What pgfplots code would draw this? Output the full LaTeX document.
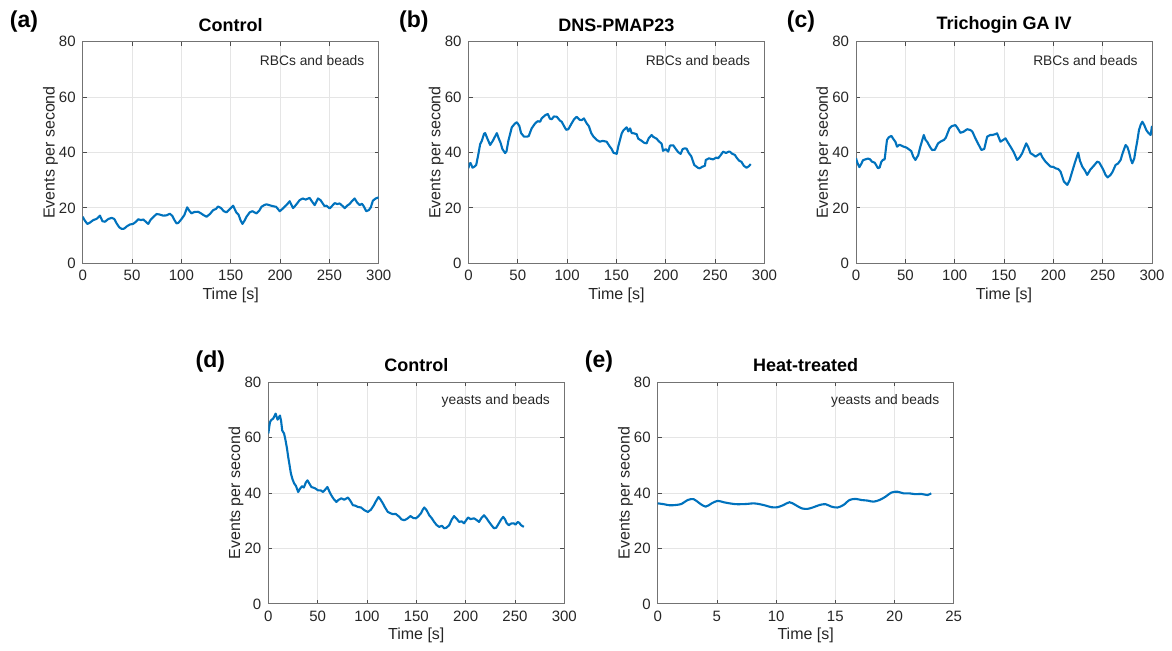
\documentclass[border=0pt]{standalone}
\usepackage{pgfplots}
\pgfplotsset{compat=1.18}
\usepackage{fontspec}
\setmainfont{Liberation Sans}
\definecolor{mblue}{RGB}{0,114,189}
\pgfplotsset{
  panel/.style={
    scale only axis, width=148pt, height=110.8pt, anchor=north west,
    ymin=0, ymax=80, ytick={0,20,...,80},
    clip mode=individual,
    grid=major, major grid style={draw=black!10, line width=0.4pt},
    axis line style={draw=black!55, line width=0.5pt},
    tick style={draw=black!70, line width=0.4pt}, tick align=inside, major tick length=2pt,
    ticklabel style={font=\fontsize{7.5}{9}\selectfont, text=black!85},
    /pgf/number format/assume math mode=true,
  },
  trace/.style={color=mblue, line width=1.05pt, line join=round, no marks},
}
\newcommand{\paneltext}[5]{%
  \node[font=\fontsize{9}{10}\bfseries\selectfont, anchor=center] at ([yshift=8.4pt]rel axis cs:0.5,1) {#1};
  \node[font=\fontsize{11.5}{12}\bfseries\selectfont, anchor=center] at ([xshift=#3,yshift=#4]rel axis cs:0,1) {#2};
  \node[font=\fontsize{6.9}{8}\selectfont, anchor=east, inner sep=0pt, text=black!85] at ([xshift=-7pt,yshift=-9.4pt]rel axis cs:1,1) {#5};
  \node[rotate=90, font=\fontsize{8}{9}\selectfont, text=black!85] at ([xshift=-16.1pt]rel axis cs:0,0.5) {Events per second};
  \node[font=\fontsize{8}{9}\selectfont, text=black!85] at ([yshift=-15.9pt]rel axis cs:0.5,0) {Time [s]};
}
\begin{document}
\begin{tikzpicture}
\path[use as bounding box] (0,0) rectangle (586pt,-325.5pt);

% (a)
\begin{axis}[panel, at={(41.35pt,-20.85pt)}, xmin=0, xmax=300, xtick={0,50,...,300}]
\addplot[trace] coordinates {(0,16.8)(2,15.5)(4.7,14.2)(7,14.6)(10.7,15.6)(14,16)(17.5,17.2)(20,15.2)(22.6,15)(26,16)(29.4,16.4)(32,16)(34.4,14.4)(37,13)(39.5,12.4)(42,12.5)(45,13.4)(47.9,14)(51,14.2)(54,15)(56.3,15.9)(59,15.6)(61.4,15.8)(64,15)(66.4,14.2)(69,15.8)(71,16.5)(74.9,17.8)(78,17.6)(81.6,17.2)(85,17.3)(88.4,17.9)(91,17)(93,15.6)(95.1,14.4)(97,14.6)(100.2,16)(103,17.4)(105.9,20.2)(108,19)(110.3,18)(113,18.5)(117,18.6)(120,18)(122,17.5)(125.5,16.8)(129,17.8)(132.2,19.2)(135,19.6)(137.2,20.5)(140,20)(143,18.8)(145.7,18.4)(149,19.5)(152.4,20.8)(155.8,18.3)(158,17.5)(160,15.5)(161.9,14.2)(164,15.4)(166,16.8)(169.3,18.4)(172,18.8)(176.1,18)(179,19)(181.2,20.4)(184,21)(186.2,21.3)(189,21)(192.9,20.6)(196,20.4)(199.7,18.8)(202,19.5)(204.7,20.4)(207,21.2)(209.8,22.4)(213.2,19.9)(216,21)(219.9,22.8)(223,23.4)(226,23)(230,23.6)(232,22.5)(235.1,21)(238.5,23.4)(241,22.8)(245.2,20.6)(247,20.8)(250.3,19.8)(253,20.8)(255.4,21.7)(258,21.4)(260.4,21.6)(263,20.8)(265.5,19.9)(268,20.8)(270.5,21.4)(273,22.5)(275.6,23.4)(278,22)(280.7,21)(283,21.5)(285,20.5)(287.4,18.8)(290,19.2)(292,20.2)(294.1,22.6)(297,23.4)(300,23.8)};
\paneltext{Control}{(a)}{-29.35pt}{9.85pt}{RBCs and beads}
\end{axis}

% (b)
\begin{axis}[panel, at={(234.25pt,-20.85pt)}, xmin=0, xmax=300, xtick={0,50,...,300}]
\addplot[trace] coordinates {(0,34.3)(0.7,35.8)(2,36.2)(4.1,34.5)(6,34.9)(7.8,35.5)(9.8,39)(11.8,43)(13.5,44.2)(15.8,46.8)(16.9,47)(18.9,45.2)(21.9,42.7)(24.6,44.2)(26.5,45.5)(28.7,47)(30.7,45)(32.5,43.5)(34.4,41.2)(37.1,39.8)(38.5,40.4)(40.4,44.2)(43.9,49.1)(47.2,50.5)(49,50.9)(51.5,49.6)(53.3,47)(56.3,45.7)(59.1,45.7)(61,45.9)(64,48.7)(67.5,50.5)(70.1,51.3)(72.6,51.1)(74.1,52.3)(77.9,53.5)(80.4,53.9)(82.5,52.2)(84.4,52)(86.5,53)(89.5,52.9)(92.7,51.5)(94.5,51.1)(96.7,49.6)(99,48.2)(101.2,48.4)(104.5,50.5)(107,52)(109.7,52.9)(112.6,51.8)(114.8,51.7)(117,52.3)(119.8,50.5)(122,49.5)(124.4,47)(126.5,45.8)(130,44.5)(133.1,43.9)(136,44.2)(140,43.9)(142.9,42.3)(145,41.3)(147,39.9)(150.2,39.5)(152,42.5)(155.3,46.9)(157,48)(160.3,49.1)(162,47.6)(163.8,48.7)(165.4,47)(167.8,46.9)(170.4,46.6)(172,45)(175.5,44.2)(178,43.5)(180.5,43.3)(182.7,45.2)(185.6,46.3)(187.4,45.6)(190.6,45)(193,44)(195.7,43.2)(197.2,40.6)(200,41.2)(202.4,40.3)(204.2,42.5)(207.5,42.6)(210,41.3)(212.6,40.1)(215,39.5)(217,41.2)(219.1,41.5)(221,41.4)(223.1,39.9)(225.8,38.6)(228.8,35.5)(232.9,34.4)(234.5,34.3)(236.6,34.8)(239.6,35.2)(240.5,37.3)(243.7,37.9)(247.7,37.5)(251.4,38.2)(253,37.9)(255.5,39)(258.1,40.3)(261,39.8)(263.6,40.3)(264.9,40.3)(267,39.6)(270,39.1)(272,38)(274.4,37)(276.7,36.6)(279,35.2)(281.8,34.5)(284,35)(286.1,35.8)};
\paneltext{DNS-PMAP23}{(b)}{-27.3pt}{9.85pt}{RBCs and beads}
\end{axis}

% (c)
\begin{axis}[panel, at={(428pt,-20.85pt)}, xmin=0, xmax=300, xtick={0,50,...,300}]
\addplot[trace] coordinates {(0,37.9)(1.5,36.2)(3.4,34.7)(5.5,36)(7,37.2)(9.4,37.5)(12,37.8)(14,37.6)(16.2,36.7)(19,36.3)(22.3,34.3)(24,34.6)(25.5,36.5)(27.1,37.3)(29,37.5)(31.4,44.5)(33,45.4)(35.8,46)(38,44.8)(40,43.8)(41.6,42.1)(44,42.8)(46,42.5)(48.3,42.1)(51,41.8)(53.4,41.2)(56,40.5)(58,38.5)(60.2,37.3)(63,39)(65.2,42.1)(68.7,46.3)(70.5,44.5)(72.1,43.9)(75,42)(77.1,40.9)(80,41)(83.2,43.3)(86,44)(89,44.5)(91,45.3)(94.7,48.7)(97,49.5)(100.7,49.9)(103,48.8)(105.8,47.1)(109,47.5)(112.6,48.4)(116,48.1)(118,47.5)(121,45.1)(124,43)(127.1,40.9)(130,41.3)(132.9,45.7)(136,46.3)(138,46.3)(141,46.6)(143,46.9)(146.4,43.9)(149,44.5)(151.5,45.1)(154,43.6)(157.6,41.5)(160,40)(163.3,37.3)(166,38.3)(168.4,39.7)(172.5,43.3)(174.5,42)(176.9,39.7)(179,39.3)(181.9,38.5)(184,39)(187,39.7)(189,38.2)(192,36.7)(194.5,35.8)(197.1,34.9)(200,34.8)(202.2,34.3)(205,34)(207.3,33.1)(209,31.3)(210.7,29.5)(214.1,28.3)(216.5,30)(219.1,33.1)(222,36.5)(225.2,39.9)(227,37)(229.3,34.9)(232,33.5)(234.3,31.9)(237.7,33.9)(241,35.2)(244.5,36.7)(246.5,36.4)(248.9,34.9)(251,33.5)(252.9,31.9)(255,31)(258,31.9)(260,33)(263.1,35.5)(265.5,36)(268.2,37.3)(270,39.5)(273.2,42.7)(275,42)(276.6,40.3)(278.5,37.5)(280,36.1)(282,37.8)(283.4,40.9)(285,44)(286.8,48.1)(288.5,50)(290.2,51.1)(292,50)(294.2,48.1)(296.5,47)(298.6,46.3)(300,49.6)};
\paneltext{Trichogin GA IV}{(c)}{-27.5pt}{9.85pt}{RBCs and beads}
\end{axis}

% (d)
\begin{axis}[panel, at={(134.15pt,-191.15pt)}, xmin=0, xmax=300, xtick={0,50,...,300}]
\addplot[trace] coordinates {(0,61.5)(1,64)(1.7,65.6)(3,66.4)(5,66.9)(7.4,68.7)(9.4,66.5)(11.8,68)(13,66)(14.1,62.6)(16,61.5)(17.5,59)(19,56)(20.2,53)(22.9,47.1)(24.5,45)(26.2,43.5)(28,42.6)(30.3,40.4)(32,41.5)(34.2,42.5)(36,42)(38,43.8)(39.7,44.6)(41.5,43.5)(43.7,42.2)(47,41.8)(50.4,41)(53,41)(55.5,40.4)(57,41)(59.9,42.2)(62,40.5)(63.9,39.2)(66,38)(69,36.8)(71,37.5)(74,38.1)(77,37.6)(80.7,38.4)(83,37.3)(85.8,35.6)(88,35.5)(90.8,35)(94,34.8)(97.5,33.8)(100.9,33.2)(104,34)(107,35.6)(109,37)(111.7,38.6)(113.5,37.8)(116.1,36.3)(118,35)(121.1,33.2)(124,32.7)(126.2,32.4)(129,32.5)(132.9,31.4)(135,30.5)(137.9,30.2)(141,30.8)(144,31.7)(147,31)(149.7,30.9)(152,31.6)(154.7,32.7)(156.5,34)(158.1,34.8)(160.5,33.8)(163.1,32)(165.5,31)(168.1,29.6)(170.5,28.5)(173.2,27.8)(176,28.2)(178.2,27.3)(180.5,27.5)(183.3,28.4)(186,30.5)(188.3,31.7)(191,30.7)(193.4,29.6)(196,29.8)(198.4,29.1)(200.5,30.2)(202.5,31.2)(205,30.6)(208.5,30.9)(211,30.3)(213.6,29.6)(216,31)(218.6,32)(221,31)(223.7,29.6)(226,28.5)(228.7,27.3)(231,27.5)(233.7,29.1)(236,30.5)(238.1,31.4)(240,30.5)(241.5,29.2)(243.8,28.4)(246,29)(248.8,29.1)(250.5,28.6)(252.9,29.6)(254.5,29.2)(256.2,28.4)(259,27.8)};
\paneltext{Control}{(d)}{-29pt}{10.15pt}{yeasts and beads}
\end{axis}

% (e)
\begin{axis}[panel, at={(328.85pt,-191.15pt)}, xmin=0, xmax=25, xtick={0,5,...,25}]
\addplot[trace, smooth] coordinates {(0,36.3)(0.51,36)(1.01,35.6)(1.52,35.7)(2.02,36.1)(2.53,37.5)(3.04,37.8)(3.54,36.3)(4.05,35.1)(4.56,36.3)(5.06,37.2)(5.57,36.7)(6.07,36.3)(6.58,36)(7.09,36)(7.59,36.1)(8.10,36.3)(8.61,36)(9.11,35.5)(9.62,34.9)(10.12,34.9)(10.63,35.7)(11.14,36.7)(11.64,35.7)(12.15,34.5)(12.66,34.3)(13.16,34.9)(13.67,35.7)(14.17,36)(14.68,35.1)(15.19,34.8)(15.69,35.7)(16.20,37.5)(16.71,37.9)(17.21,37.5)(17.72,37.3)(18.22,36.9)(18.73,37.5)(19.24,38.7)(19.74,40.2)(20.25,40.5)(20.76,39.9)(21.26,39.9)(21.77,39.6)(22.27,39.7)(22.78,39.3)(23.1,39.9)};
\paneltext{Heat-treated}{(e)}{-29.35pt}{10.15pt}{yeasts and beads}
\end{axis}
\end{tikzpicture}
\end{document}
